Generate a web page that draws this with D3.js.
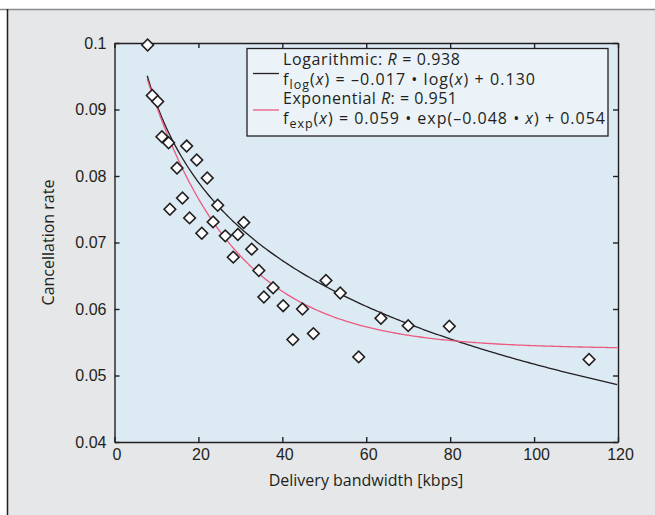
<!DOCTYPE html>
<html>
<head>
<meta charset="utf-8">
<script src="https://cdn.jsdelivr.net/npm/d3@7"></script>
<style>
  body { margin: 0; background: #fff; }
  svg { display: block; font-family: "Open Sans", sans-serif; }
  .axis text { font-size: 16px; fill: #231f20; }
  .axis path, .axis line { stroke: #231f20; stroke-width: 1.4; }
</style>
</head>
<body>
<div id="chart"></div>
<script>
// measured points: delivery bandwidth (kbps) vs cancellation rate
const bandwidth = [7.9, 9.0, 10.3, 11.3, 12.9, 17.2, 19.6, 14.9, 22.1, 16.2, 13.2, 24.6, 17.9, 23.5, 30.8,
  20.8, 26.4, 29.4, 32.7, 28.3, 34.4, 37.8, 35.6, 40.2, 44.8, 50.4, 53.8, 42.5, 47.4, 58.2, 63.5, 70.0, 79.8, 113.1];
const cancelRate = [0.0997, 0.0921, 0.0912, 0.0859, 0.0850, 0.0845, 0.0824, 0.0812, 0.0797, 0.0767, 0.0750, 0.0756, 0.0737, 0.0731, 0.0730,
  0.0714, 0.0710, 0.0712, 0.0690, 0.0678, 0.0658, 0.0632, 0.0618, 0.0605, 0.0600, 0.0643, 0.0624, 0.0554, 0.0563, 0.0528, 0.0586, 0.0575, 0.0574, 0.0524];

// fit coefficients as printed in the legend
const logFit = [-0.017, 0.130];          // a * ln(x) + b
const expFit = [0.059, -0.048, 0.054];   // a * exp(k x) + c
const fitRange = [7.8, 120];

const xTicks = [0, 20, 40, 60, 80, 100, 120];
const yTicks = [0.04, 0.05, 0.06, 0.07, 0.08, 0.09, 0.1];

const width = 655, height = 515;
const plotLeft = 114.5, plotRight = 618, plotTop = 43, plotBottom = 442;
const ink = '#231f20';
const pink = '#ec5a7e';

const svg = d3.select('#chart').append('svg')
  .attr('width', width)
  .attr('height', height);

// outer panel
svg.append('rect').attr('x', 7).attr('y', 9).attr('width', width - 7).attr('height', height - 9).attr('fill', '#e6e7e8');
svg.append('line').attr('x1', 0).attr('x2', width).attr('y1', 9.5).attr('y2', 9.5).attr('stroke', '#8a8b8d').attr('stroke-width', 1.5);
svg.append('line').attr('x1', 7.5).attr('x2', 7.5).attr('y1', 9).attr('y2', height).attr('stroke', ink).attr('stroke-width', 1.5);

const x = d3.scaleLinear().domain([0, 120]).range([plotLeft, plotRight]);
const y = d3.scaleLinear().domain([0.04, 0.1]).range([plotBottom, plotTop]);

svg.append('rect')
  .attr('x', plotLeft).attr('y', plotTop)
  .attr('width', plotRight - plotLeft).attr('height', plotBottom - plotTop)
  .attr('fill', '#dceaf4');

// axes, ticks inward on all sides
svg.append('g').attr('class', 'axis')
  .attr('transform', `translate(0,${plotBottom})`)
  .call(d3.axisBottom(x).tickValues(xTicks).tickSize(-5).tickSizeOuter(0).tickPadding(7))
  .call(g => g.selectAll('.tick text').attr('dx', 2));
svg.append('g').attr('class', 'axis')
  .attr('transform', `translate(${plotLeft},0)`)
  .call(d3.axisLeft(y).tickValues(yTicks).tickSize(-5).tickSizeOuter(0).tickPadding(8).tickFormat(d3.format('.2~f')));
svg.append('g').attr('class', 'axis')
  .attr('transform', `translate(0,${plotTop})`)
  .call(d3.axisTop(x).tickValues(xTicks).tickSize(-5).tickSizeOuter(0).tickFormat(''));
svg.append('g').attr('class', 'axis')
  .attr('transform', `translate(${plotRight},0)`)
  .call(d3.axisRight(y).tickValues(yTicks).tickSize(-5).tickSizeOuter(0).tickFormat(''));

// axis titles
svg.append('text')
  .attr('x', 366).attr('y', 486)
  .attr('text-anchor', 'middle')
  .attr('font-size', 16).attr('fill', ink)
  .text('Delivery bandwidth [kbps]');
svg.append('text')
  .attr('transform', `translate(54,${(plotTop + plotBottom) / 2}) rotate(-90)`)
  .attr('text-anchor', 'middle')
  .attr('font-size', 16).attr('fill', ink)
  .text('Cancellation rate');

// fitted curves
const xs = d3.range(fitRange[0], fitRange[1] + 0.01, 0.5);
const line = d3.line().x(d => x(d[0])).y(d => y(d[1]));
svg.append('path')
  .datum(xs.map(v => [v, logFit[0] * Math.log(v) + logFit[1]]))
  .attr('d', line).attr('fill', 'none').attr('stroke', ink).attr('stroke-width', 1.3);
svg.append('path')
  .datum(xs.map(v => [v, expFit[0] * Math.exp(expFit[1] * v) + expFit[2]]))
  .attr('d', line).attr('fill', 'none').attr('stroke', pink).attr('stroke-width', 1.3);

// data points as diamonds
const diamond = d3.symbol().type(d3.symbolSquare).size(68);
svg.append('g').selectAll('path')
  .data(d3.zip(bandwidth, cancelRate))
  .enter().append('path')
  .attr('d', diamond)
  .attr('transform', d => `translate(${x(d[0])},${y(d[1])}) rotate(45)`)
  .attr('fill', '#fff')
  .attr('stroke', ink)
  .attr('stroke-width', 1.6);

// legend
const lg = svg.append('g');
lg.append('rect')
  .attr('x', 247).attr('y', 48.5).attr('width', 361).attr('height', 87.5)
  .attr('fill', '#ebf3f9').attr('stroke', ink).attr('stroke-width', 1.3);
lg.append('line').attr('x1', 253).attr('x2', 279).attr('y1', 73.5).attr('y2', 73.5).attr('stroke', ink).attr('stroke-width', 1.3);
lg.append('line').attr('x1', 253).attr('x2', 279).attr('y1', 110).attr('y2', 110).attr('stroke', pink).attr('stroke-width', 1.3);

const tx = 283;
const legendText = (yy, len) => lg.append('text')
  .attr('x', tx).attr('y', yy)
  .attr('font-size', 16).attr('fill', ink)
  .attr('textLength', len).attr('lengthAdjust', 'spacing');

const t1 = legendText(65, 177);
t1.append('tspan').text('Logarithmic: ');
t1.append('tspan').attr('font-style', 'italic').text('R');
t1.append('tspan').text(' = 0.938');

const t2 = legendText(85, 252);
t2.append('tspan').text('f');
t2.append('tspan').attr('dy', 4).attr('font-size', 12.5).text('log');
t2.append('tspan').attr('dy', -4).text('(');
t2.append('tspan').attr('font-style', 'italic').text('x');
t2.append('tspan').text(') = \u20130.017 \u2022 log(');
t2.append('tspan').attr('font-style', 'italic').text('x');
t2.append('tspan').text(') + 0.130');

const t3 = legendText(104, 174);
t3.append('tspan').text('Exponential ');
t3.append('tspan').attr('font-style', 'italic').text('R');
t3.append('tspan').text(': = 0.951');

const t4 = legendText(124, 322);
t4.append('tspan').text('f');
t4.append('tspan').attr('dy', 4).attr('font-size', 12.5).text('exp');
t4.append('tspan').attr('dy', -4).text('(');
t4.append('tspan').attr('font-style', 'italic').text('x');
t4.append('tspan').text(') = 0.059 \u2022 exp(\u20130.048 \u2022 ');
t4.append('tspan').attr('font-style', 'italic').text('x');
t4.append('tspan').text(') + 0.054');
</script>
</body>
</html>
